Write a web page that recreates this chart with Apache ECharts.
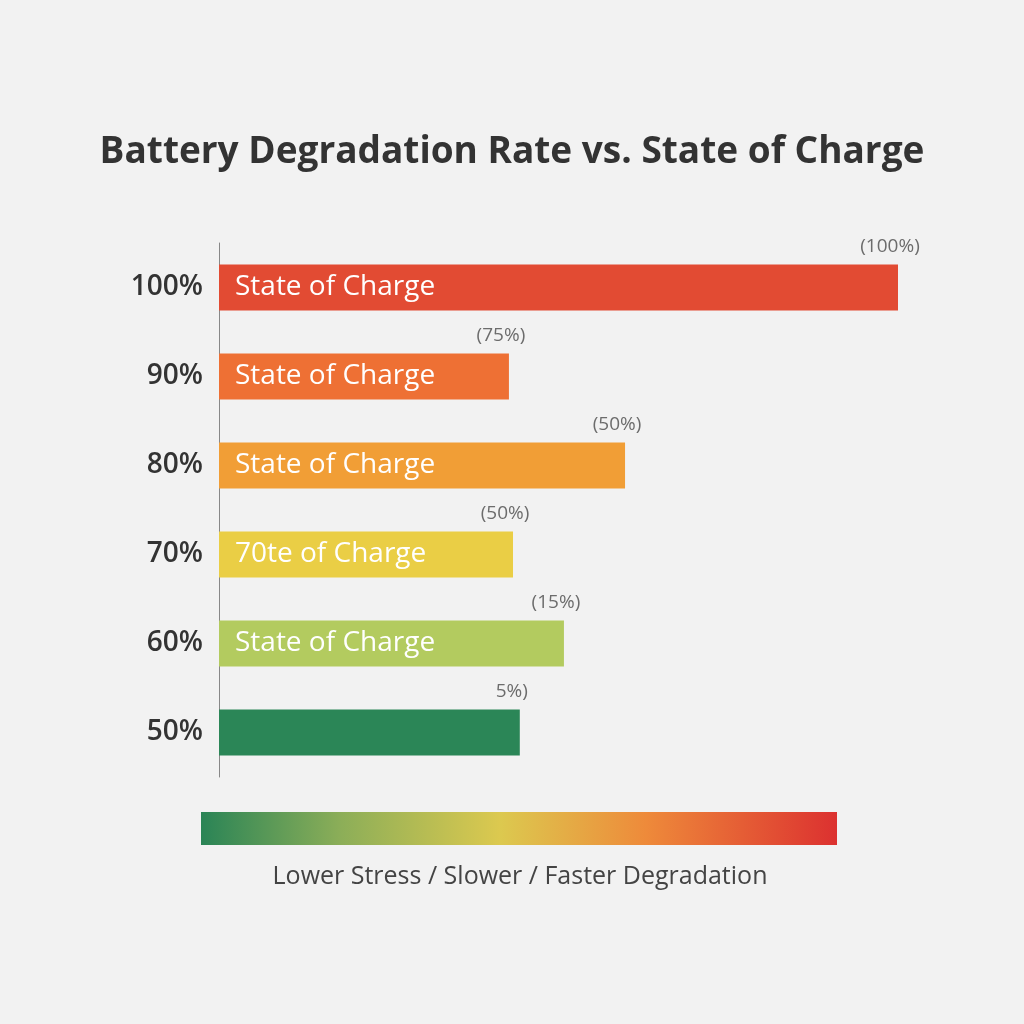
<!DOCTYPE html>
<html><head><meta charset="utf-8">
<script src="https://cdn.jsdelivr.net/npm/echarts@6/dist/echarts.min.js"></script>
<style>html,body{margin:0;padding:0;background:#f2f2f2;}#c{width:1024px;height:1024px;}</style>
</head><body><div id="c"></div>
<script>
const categories = ["100%", "90%", "80%", "70%", "60%", "50%"];
const barValues = [100, 42.7, 59.8, 43.3, 50.8, 44.3];
const insideLabels = ["State of Charge", "State of Charge", "State of Charge", "70te of Charge", "State of Charge", ""];
const topLabels = ["(100%)", "(75%)", "(50%)", "(50%)", "(15%)", "5%)"];
const barColors = ["#e24b33", "#ee7034", "#f19e36", "#eace45", "#b3cb5f", "#2b8657"];
const legendText = "Lower Stress / Slower / Faster Degradation";
const titleText = "Battery Degradation Rate vs. State of Charge";

const FONT = "Open Sans";
const chart = echarts.init(document.getElementById('c'), null, {renderer: 'canvas'});
chart.setOption({
  backgroundColor: '#f2f2f2',
  animation: false,
  title: {
    text: titleText, left: 'center', top: 129,
    textStyle: {fontFamily: FONT, fontWeight: 'bold', fontSize: 37, color: '#333333'}
  },
  grid: {left: 219, right: 126, top: 243, height: 534},
  xAxis: {type: 'value', min: 0, max: 100, show: false},
  yAxis: {
    type: 'category', data: categories, inverse: true,
    axisLine: {show: true, lineStyle: {color: '#888888', width: 1}},
    axisTick: {show: false},
    axisLabel: {fontFamily: FONT, fontSize: 28, fontWeight: 600, color: '#333333', margin: 16}
  },
  series: [
    {
      type: 'bar', barWidth: 46,
      data: barValues.map((v, i) => ({
        value: v,
        itemStyle: {color: barColors[i]},
        label: {formatter: insideLabels[i]}
      })),
      label: {show: true, position: 'insideLeft', distance: 16,
        fontFamily: FONT, fontSize: 28, color: '#ffffff'}
    },
    {
      type: 'scatter', symbolSize: 0, silent: true,
      data: barValues.map((v, i) => ({
        value: [v, categories[i]],
        label: {formatter: topLabels[i]}
      })),
      label: {show: true, position: 'top', distance: 31, offset: [-8, 0],
        fontFamily: FONT, fontSize: 19, color: '#4a4a4a'}
    }
  ],
  graphic: [
    {
      type: 'rect', shape: {x: 201, y: 812, width: 636, height: 33},
      style: {fill: new echarts.graphic.LinearGradient(0, 0, 1, 0, [
        {offset: 0, color: '#2a8456'},
        {offset: 0.22, color: '#8cae58'},
        {offset: 0.47, color: '#dcc94f'},
        {offset: 0.7, color: '#ee8a3a'},
        {offset: 1, color: '#dc3130'}
      ])}
    },
    {
      type: 'text', x: 520, y: 877,
      style: {text: legendText, fontFamily: FONT, fontSize: 25, fill: '#444444',
        textAlign: 'center', textVerticalAlign: 'middle'}
    }
  ]
});
</script></body></html>
